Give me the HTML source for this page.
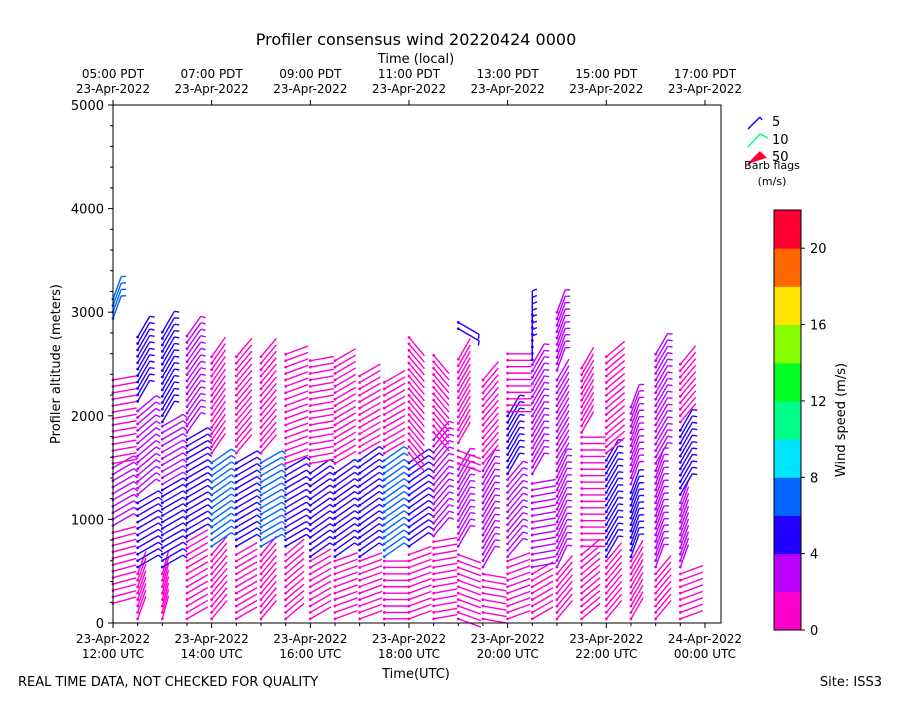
<!DOCTYPE html>
<html><head><meta charset="utf-8"><style>
body{margin:0;background:#fff;font-family:"Liberation Sans","DejaVu Sans",sans-serif}
svg text{font-family:"DejaVu Sans","Liberation Sans",sans-serif;fill:#000}
</style></head><body>
<svg id="chart" width="900" height="700" viewBox="0 0 900 700" xmlns="http://www.w3.org/2000/svg">
<text x="416" y="45" font-size="16" text-anchor="middle">Profiler consensus wind 20220424 0000</text>
<text x="416" y="63" font-size="13" text-anchor="middle">Time (local)</text>
<text x="416" y="678" font-size="13" text-anchor="middle">Time(UTC)</text>
<text x="60" y="364" font-size="13" text-anchor="middle" transform="rotate(-90 60 364)">Profiler altitude (meters)</text>
<text x="18" y="686" font-size="13">REAL TIME DATA, NOT CHECKED FOR QUALITY</text>
<text x="882" y="686" font-size="13" text-anchor="end">Site: ISS3</text>
<g id="barbs"></g>
<rect x="113" y="105" width="608" height="518" fill="none" stroke="#000" stroke-width="1"/>
<g id="axes"></g>
<g>
<line x1="748" y1="129" x2="760" y2="117" stroke="#2200ff" stroke-width="1.5"/><line x1="760" y1="117" x2="762" y2="120" stroke="#2200ff" stroke-width="1.5"/>
<text x="772" y="126" font-size="13">5</text>
<polyline points="748,147 760,134 768,138" fill="none" stroke="#00ff88" stroke-width="1.5"/>
<text x="772" y="144" font-size="13">10</text>
<polyline points="748,164 760,152 766,158" fill="#ff0030" stroke="#ff0030" stroke-width="1.5"/>
<text x="772" y="161" font-size="13">50</text>
<text x="772" y="169" font-size="11" text-anchor="middle">Barb flags</text>
<text x="772" y="185" font-size="11" text-anchor="middle">(m/s)</text>
</g>
<g id="cbar"></g>
<text x="845" y="420" font-size="13" text-anchor="middle" transform="rotate(-90 845 420)">Wind speed (m/s)</text>
</svg>
<script>
const NS="http://www.w3.org/2000/svg";
const colHours=[0,0.5,1,1.5,2,2.5,3,3.5,4,4.5,5,5.5,6,6.5,7,7.5,8,8.5,9,9.5,10,10.5,11,11.5];
// per column layers: [altStart, altEnd, speed m/s, shaft screen angle deg clockwise from up]
const layers=[
[[150,900,1,75],[900,1500,3,60],[1500,2400,1.5,80],[2900,3150,6,20]],
[[0,500,1,20],[500,1200,4,60],[1200,2100,3,50],[2100,2800,5,30]],
[[0,500,1,15],[500,1300,4,60],[1300,1900,3,60],[1900,2850,4,30]],
[[0,800,1,60],[800,1800,5,60],[1800,2800,3,35]],
[[0,700,1,40],[700,1600,6,55],[1600,2600,1.5,35]],
[[0,700,1,60],[700,1600,5,60],[1600,2600,1.5,40]],
[[0,700,1,40],[700,1600,6,60],[1600,2600,1.5,40]],
[[0,700,1,50],[700,1500,4,60],[1500,2600,1.5,70]],
[[0,600,1,60],[600,1500,5,55],[1500,2550,1.5,80]],
[[0,600,1,70],[600,1500,4,55],[1500,2550,1.5,60]],
[[0,600,1,70],[600,1600,4,55],[1600,2400,1.5,60]],
[[0,600,1,90],[600,1600,6,55],[1600,2350,1.5,60]],
[[0,700,1,70],[700,1600,4,55],[1600,2800,1.5,140]],
[[0,800,1,80],[800,1800,3,40],[1800,2600,1.5,140]],
[[0,700,1,110],[700,1500,3,30],[1500,1700,1.5,110],[1700,2600,1.5,30],[2800,2920,5,120]],
[[0,500,1,100],[500,1500,3,30],[1500,2400,1.5,40]],
[[0,600,1,70],[600,1400,3,40],[1400,2000,5,30],[2000,2600,1.5,90]],
[[0,500,1,60],[500,1400,2,80],[1400,2500,3,30],[2500,3000,5,0]],
[[0,500,1,40],[500,1500,3,25],[1500,2400,2,30],[2400,3050,3,20]],
[[0,700,1,50],[700,1800,1.5,90],[1800,2500,1.5,30]],
[[0,600,1,40],[600,1600,5,30],[1600,2600,1.5,50]],
[[0,600,1,30],[600,1300,5,20],[1300,2100,3,20]],
[[0,500,1,40],[500,1500,3,20],[1500,2600,3,30]],
[[0,500,1,70],[500,1200,2,20],[1200,1900,5,30],[1900,2500,1.5,40]]
];
const yTicks=[0,1000,2000,3000,4000,5000];
const utcTicks=[[0,"23-Apr-2022","12:00 UTC"],[2,"23-Apr-2022","14:00 UTC"],[4,"23-Apr-2022","16:00 UTC"],[6,"23-Apr-2022","18:00 UTC"],[8,"23-Apr-2022","20:00 UTC"],[10,"23-Apr-2022","22:00 UTC"],[12,"24-Apr-2022","00:00 UTC"]];
const localTicks=[[-2,"05:00 PDT"],[0,"07:00 PDT"],[2,"09:00 PDT"],[4,"11:00 PDT"],[6,"13:00 PDT"],[8,"15:00 PDT"],[10,"17:00 PDT"]];
const cbColors=["#ff00cc","#bb00ff","#2200ff","#0066ff","#00e5ff","#00ff88","#00ff22","#88ff00","#ffe600","#ff6600","#ff0033"];
const cbTicks=[0,4,8,12,16,20];
const X=h=>113+h*49.33, Y=a=>623-a*0.1036;
function el(t,a,p){const e=document.createElementNS(NS,t);for(const k in a)e.setAttribute(k,a[k]);p.appendChild(e);return e;}
const colorOf=s=>cbColors[Math.min(10,Math.floor(s/2))];
const bg=document.getElementById('barbs');
colHours.forEach((h,ci)=>{
  layers[ci].forEach(L=>{
    for(let a=L[0]+40;a<=L[1];a+=62){
      const x=X(h),y=Y(a);
      if(x<112)continue;
      const th=L[3]*Math.PI/180,len=24;
      const ex=x+len*Math.sin(th),ey=y-len*Math.cos(th);
      const c=colorOf(L[2]);
      const g=el('g',{},bg);
      
      
      el('line',{x1:x,y1:y,x2:ex,y2:ey,stroke:c,'stroke-width':1.4},g);
      el('circle',{cx:x,cy:y,r:1.4,fill:c},g);
      if(L[2]>=2.5){
        const bl=L[2]>=7.5?8:5, bt=th+1.2;
        el('line',{x1:ex,y1:ey,x2:ex+bl*Math.sin(bt),y2:ey-bl*Math.cos(bt),stroke:c,'stroke-width':1.4},g);
      }
    }
  });
});
const ax=document.getElementById('axes');
yTicks.forEach(v=>{const y=Y(v);el('line',{x1:108,y1:y,x2:113,y2:y,stroke:'#000'},ax);const t=el('text',{x:104,y:y+5,'font-size':13,'text-anchor':'end'},ax);t.textContent=v;});
for(let v=0;v<=5000;v+=200){if(v%1000)el('line',{x1:110,y1:Y(v),x2:113,y2:Y(v),stroke:'#000'},ax);}
for(let h=0;h<=12.3;h+=0.5){el('line',{x1:X(h),y1:623,x2:X(h),y2:h%2?626:628,stroke:'#000'},ax);}
utcTicks.forEach(t=>{const x=X(t[0]);const a=el('text',{x:x,y:643,'font-size':12,'text-anchor':'middle'},ax);a.textContent=t[1];const b=el('text',{x:x,y:658,'font-size':12,'text-anchor':'middle'},ax);b.textContent=t[2];});
localTicks.forEach(t=>{const x=X(t[0]+2);el('line',{x1:x,y1:100,x2:x,y2:105,stroke:'#000'},ax);const a=el('text',{x:x,y:78,'font-size':12,'text-anchor':'middle'},ax);a.textContent=t[1];const b=el('text',{x:x,y:93,'font-size':12,'text-anchor':'middle'},ax);b.textContent="23-Apr-2022";});
const cb=document.getElementById('cbar');
const cy=v=>630-v*(420/22);
cbColors.forEach((c,i)=>{const r=el('rect',{x:774,y:cy((i+1)*2),width:27,height:420/11+0.5,fill:c},cb);});
el('rect',{x:774,y:210,width:27,height:420,fill:'none',stroke:'#000'},cb);
cbTicks.forEach(v=>{el('line',{x1:801,y1:cy(v),x2:805,y2:cy(v),stroke:'#000'},cb);const t=el('text',{x:810,y:cy(v)+5,'font-size':13},cb);t.textContent=v;});
</script>
</body></html>
